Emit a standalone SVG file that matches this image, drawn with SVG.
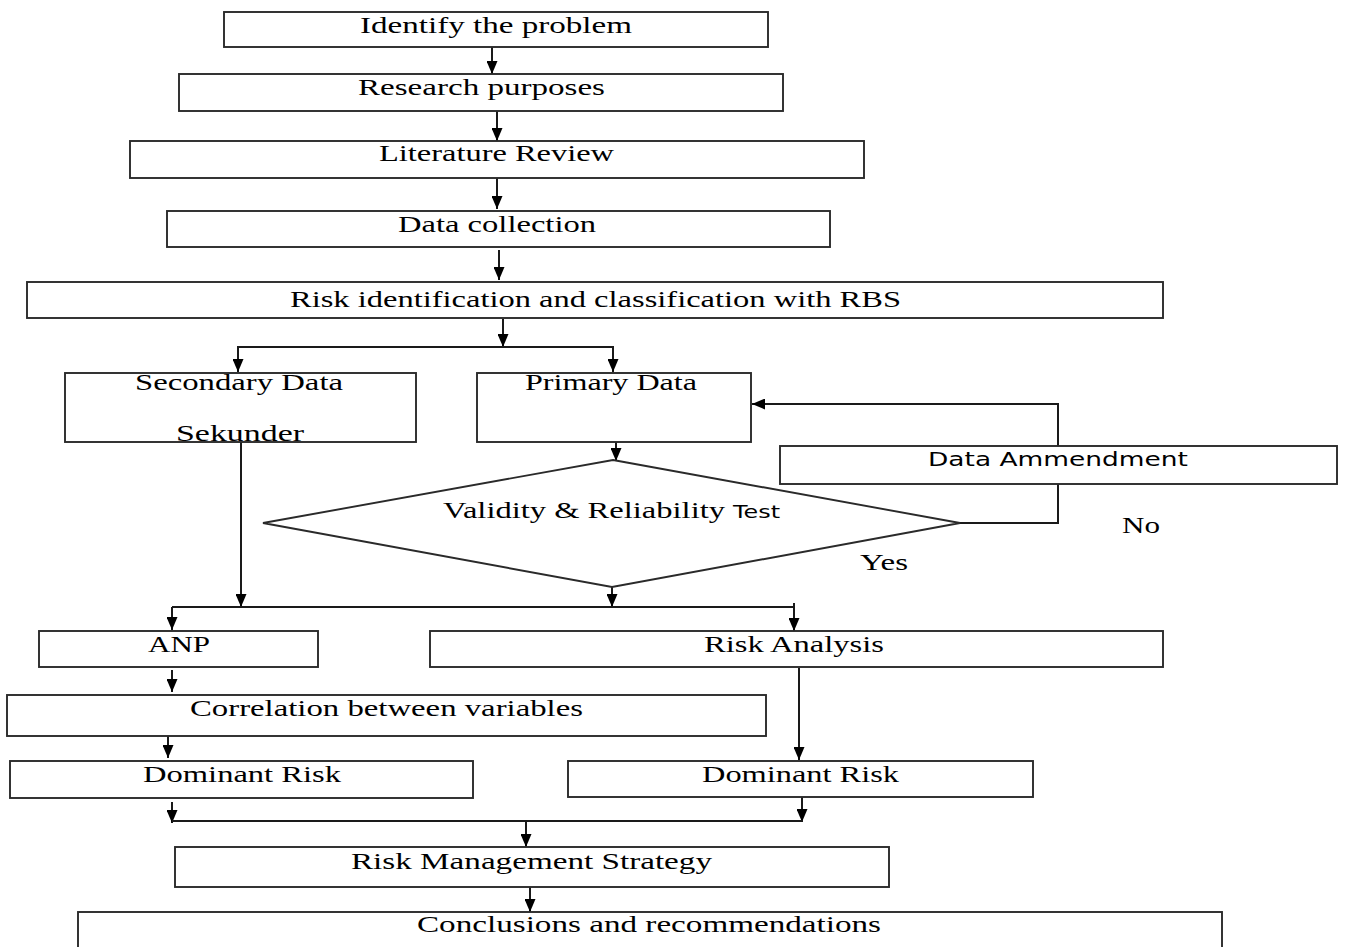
<svg xmlns="http://www.w3.org/2000/svg" width="1346" height="947" viewBox="0 0 1346 947">
<style>
.b{fill:#fff;stroke:#2a2a2a;stroke-width:1.9}
.c{fill:none;stroke:#1a1a1a;stroke-width:2}
.t{font-family:"Liberation Serif","Times New Roman","DejaVu Serif",serif;font-size:24px;fill:#000}
.s{font-family:"DejaVu Sans","Verdana",sans-serif;font-size:20px;fill:#000}
</style>
<defs>
<marker id="a" viewBox="0 0 13 11" refX="13" refY="5.5" markerWidth="13" markerHeight="11" markerUnits="userSpaceOnUse" orient="auto">
<path d="M0,0 L13,5.5 L0,11 z" fill="#000"/>
</marker>
</defs>
<rect width="1346" height="947" fill="#fff"/>
<g id="connectors">
<line class="c" x1="492" y1="47" x2="492" y2="74" marker-end="url(#a)"/>
<line class="c" x1="497" y1="111" x2="497" y2="141" marker-end="url(#a)"/>
<line class="c" x1="497" y1="178" x2="497" y2="209" marker-end="url(#a)"/>
<line class="c" x1="499" y1="250" x2="499" y2="280" marker-end="url(#a)"/>
<line class="c" x1="503" y1="319" x2="503" y2="347" marker-end="url(#a)"/>
<polyline class="c" points="238,372 238,347 613,347 613,372"/>
<line class="c" x1="238" y1="355" x2="238" y2="372" marker-end="url(#a)"/>
<line class="c" x1="613" y1="355" x2="613" y2="372" marker-end="url(#a)"/>
<line class="c" x1="616" y1="442" x2="616" y2="461" marker-end="url(#a)"/>
<polyline class="c" points="960,523 1058,523 1058,484"/>
<polyline class="c" points="1058,446 1058,404 752,404" marker-end="url(#a)"/>
<line class="c" x1="241" y1="442" x2="241" y2="607" marker-end="url(#a)"/>
<line class="c" x1="612" y1="587" x2="612" y2="607" marker-end="url(#a)"/>
<line class="c" x1="172" y1="607" x2="795" y2="607"/>
<line class="c" x1="172" y1="607" x2="172" y2="630" marker-end="url(#a)"/>
<line class="c" x1="794" y1="603" x2="794" y2="631" marker-end="url(#a)"/>
<line class="c" x1="172" y1="670" x2="172" y2="692" marker-end="url(#a)"/>
<line class="c" x1="168" y1="736" x2="168" y2="758" marker-end="url(#a)"/>
<line class="c" x1="799" y1="668" x2="799" y2="760" marker-end="url(#a)"/>
<line class="c" x1="172" y1="802" x2="172" y2="823" marker-end="url(#a)"/>
<line class="c" x1="802" y1="797" x2="802" y2="822" marker-end="url(#a)"/>
<line class="c" x1="172" y1="821" x2="803" y2="821"/>
<line class="c" x1="526" y1="821" x2="526" y2="847" marker-end="url(#a)"/>
<line class="c" x1="530" y1="887" x2="530" y2="912" marker-end="url(#a)"/>
</g>
<g id="n1"><rect class="b" x="224" y="12" width="544" height="35"/><text class="t" x="360" y="33" textLength="272" lengthAdjust="spacingAndGlyphs">Identify the problem</text></g>
<g id="n2"><rect class="b" x="179" y="74" width="604" height="37"/><text class="t" x="358" y="95" textLength="247" lengthAdjust="spacingAndGlyphs">Research purposes</text></g>
<g id="n3"><rect class="b" x="130" y="141" width="734" height="37"/><text class="t" x="379" y="161" textLength="235" lengthAdjust="spacingAndGlyphs">Literature Review</text></g>
<g id="n4"><rect class="b" x="167" y="211" width="663" height="36"/><text class="t" x="398" y="232" textLength="198" lengthAdjust="spacingAndGlyphs">Data collection</text></g>
<g id="n5"><rect class="b" x="27" y="282" width="1136" height="36"/><text class="t" x="290" y="307" textLength="611" lengthAdjust="spacingAndGlyphs">Risk identification and classification with RBS</text></g>
<g id="n6"><rect class="b" x="65" y="373" width="351" height="69"/><text class="t" x="135" y="390" textLength="208" lengthAdjust="spacingAndGlyphs">Secondary Data</text><text class="t" x="176" y="441" textLength="128" lengthAdjust="spacingAndGlyphs">Sekunder</text></g>
<g id="n7"><rect class="b" x="477" y="373" width="274" height="69"/><text class="t" x="525" y="390" textLength="172" lengthAdjust="spacingAndGlyphs">Primary Data</text></g>
<g id="n8"><polygon class="b" points="613,460 960,523 612,587 263,523"/><text class="t" x="443" y="518" textLength="282" lengthAdjust="spacingAndGlyphs">Validity &amp; Reliability</text><text class="s" x="733" y="518" textLength="47" lengthAdjust="spacingAndGlyphs" style="font-size:17px">Test</text></g>
<g id="n9"><rect class="b" x="780" y="446" width="557" height="38"/><text class="s" x="928" y="466" textLength="260" lengthAdjust="spacingAndGlyphs">Data Ammendment</text></g>
<g id="l1"><text class="t" x="1122" y="533" textLength="38" lengthAdjust="spacingAndGlyphs">No</text><text class="t" x="860" y="570" textLength="48" lengthAdjust="spacingAndGlyphs">Yes</text></g>
<g id="n10"><rect class="b" x="39" y="631" width="279" height="36"/><text class="t" x="148" y="652" textLength="62" lengthAdjust="spacingAndGlyphs">ANP</text></g>
<g id="n11"><rect class="b" x="430" y="631" width="733" height="36"/><text class="t" x="704" y="652" textLength="180" lengthAdjust="spacingAndGlyphs">Risk Analysis</text></g>
<g id="n12"><rect class="b" x="7" y="695" width="759" height="41"/><text class="t" x="190" y="716" textLength="393" lengthAdjust="spacingAndGlyphs">Correlation between variables</text></g>
<g id="n13"><rect class="b" x="10" y="761" width="463" height="37"/><text class="t" x="143" y="782" textLength="198" lengthAdjust="spacingAndGlyphs">Dominant Risk</text></g>
<g id="n14"><rect class="b" x="568" y="761" width="465" height="36"/><text class="t" x="702" y="782" textLength="197" lengthAdjust="spacingAndGlyphs">Dominant Risk</text></g>
<g id="n15"><rect class="b" x="175" y="847" width="714" height="40"/><text class="t" x="351" y="869" textLength="361" lengthAdjust="spacingAndGlyphs">Risk Management Strategy</text></g>
<g id="n16"><rect class="b" x="78" y="912" width="1144" height="45"/><text class="t" x="417" y="932" textLength="464" lengthAdjust="spacingAndGlyphs">Conclusions and recommendations</text></g>
</svg>
